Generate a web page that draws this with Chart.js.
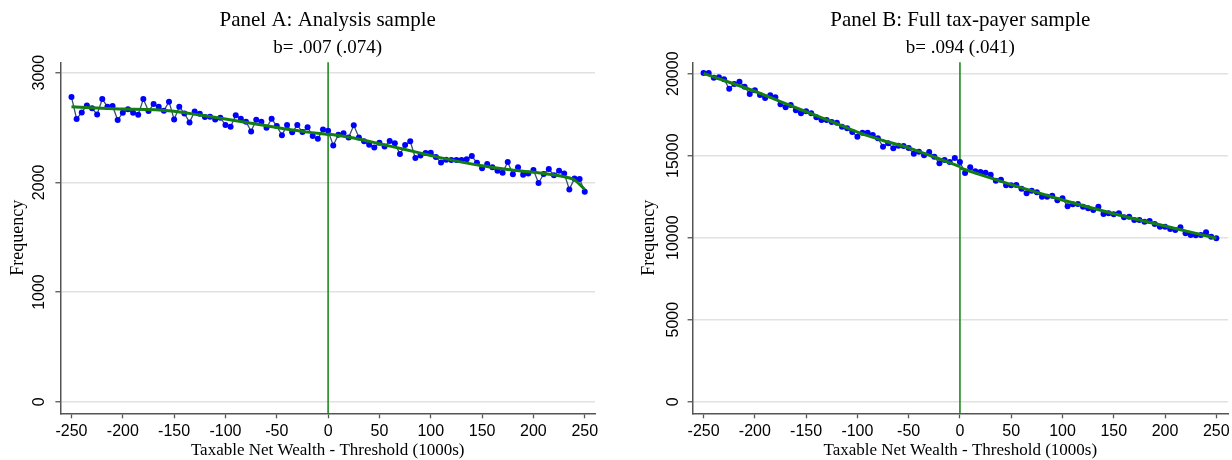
<!DOCTYPE html>
<html lang="en">
<head>
    <meta charset="UTF-8">
    <title>Frequency around the wealth tax threshold</title>
    <style>
        html, body { margin: 0; padding: 0; background: #fff; }
        .panels { position: relative; width: 1232px; height: 460px; }
        .panel { position: absolute; top: 0; width: 616px; height: 460px; }
        #panelA { left: 0; }
        #panelB { left: 616px; }
    </style>
</head>
<body>
    <div class="panels">
        <div class="panel" id="panelA"><canvas id="chartA" width="616" height="460"></canvas></div>
        <div class="panel" id="panelB"><canvas id="chartB" width="616" height="460"></canvas></div>
    </div>

    <script src="https://cdn.jsdelivr.net/npm/chart.js"></script>
    <script>
        // bins of taxable net wealth minus threshold (1000s)
        const bins = [
            -250, -245, -240, -235, -230, -225, -220, -215, -210, -205,
            -200, -195, -190, -185, -180, -175, -170, -165, -160, -155,
            -150, -145, -140, -135, -130, -125, -120, -115, -110, -105,
            -100, -95, -90, -85, -80, -75, -70, -65, -60, -55,
            -50, -45, -40, -35, -30, -25, -20, -15, -10, -5,
            0, 5, 10, 15, 20, 25, 30, 35, 40, 45,
            50, 55, 60, 65, 70, 75, 80, 85, 90, 95,
            100, 105, 110, 115, 120, 125, 130, 135, 140, 145,
            150, 155, 160, 165, 170, 175, 180, 185, 190, 195,
            200, 205, 210, 215, 220, 225, 230, 235, 240, 245,
            250
        ];

        // Panel A: analysis sample
        const freqA = [
            2778, 2578, 2638, 2702, 2675, 2620, 2760, 2690, 2696, 2568,
            2635, 2666, 2635, 2617, 2760, 2650, 2714, 2690, 2653, 2736,
            2574, 2690, 2629, 2547, 2647, 2626, 2596, 2599, 2574, 2590,
            2523, 2508, 2611, 2580, 2553, 2465, 2571, 2553, 2498, 2580,
            2514, 2429, 2523, 2456, 2523, 2459, 2502, 2422, 2398, 2483,
            2471, 2337, 2435, 2447, 2410, 2520, 2410, 2374, 2343, 2319,
            2362, 2328, 2377, 2356, 2258, 2340, 2374, 2222, 2246, 2267,
            2270, 2231, 2182, 2207, 2204, 2204, 2204, 2210, 2240, 2179,
            2128, 2167, 2137, 2106, 2088, 2185, 2073, 2137, 2070, 2082,
            2112, 1994, 2076, 2122, 2064, 2106, 2082, 1936, 2036, 2030,
            1915
        ];
        const fitLeftXA = [-250, -225, -200, -175, -150, -125, -100, -75, -50, -25, 0];
        const fitLeftA = [2690, 2678, 2668, 2664, 2648, 2614, 2578, 2540, 2500, 2465, 2437];
        const fitRightXA = [0, 25, 50, 75, 100, 125, 150, 175, 200, 225, 240, 250];
        const fitRightA = [2442, 2405, 2352, 2300, 2245, 2194, 2152, 2118, 2092, 2060, 2022, 1935];
        const yTicksA = [0, 1000, 2000, 3000];

        // Panel B: full tax-payer sample
        const freqB = [
            20040, 20040, 19756, 19776, 19654, 19085, 19370, 19512, 19207, 18760,
            18984, 18699, 18516, 18679, 18557, 18130, 17947, 18089, 17764, 17581,
            17703, 17581, 17337, 17175, 17175, 17053, 17012, 16768, 16667, 16443,
            16159, 16402, 16402, 16260, 16057, 15549, 15752, 15447, 15610, 15589,
            15467, 15122, 15244, 15020, 15224, 14939, 14533, 14736, 14614, 14858,
            14614, 13943, 14289, 14045, 14004, 13963, 13841, 13476, 13537, 13191,
            13191, 13211, 12988, 12703, 12866, 12764, 12500, 12500, 12561, 12276,
            12398, 11911, 12033, 12053, 11890, 11789, 11687, 11890, 11443, 11484,
            11423, 11484, 11240, 11280, 11077, 11077, 10976, 11016, 10833, 10671,
            10671, 10528, 10467, 10630, 10264, 10163, 10142, 10163, 10325, 10061,
            9959
        ];
        const fitLeftXB = [-250, -225, -200, -175, -150, -125, -100, -75, -50, -25, 0];
        const fitLeftB = [20020, 19480, 18930, 18300, 17680, 17080, 16440, 15930, 15480, 14920, 14330];
        const fitRightXB = [0, 25, 50, 75, 100, 125, 150, 175, 200, 225, 250];
        const fitRightB = [14250, 13740, 13240, 12760, 12300, 11870, 11460, 11080, 10710, 10340, 9970];
        const yTicksB = [0, 5000, 10000, 15000, 20000];

        const xTicks = [-250, -200, -150, -100, -50, 0, 50, 100, 150, 200, 250];
        const cutoff = 0;

        const serif = '"Liberation Serif", "Times New Roman", serif';
        const sans = '"Liberation Sans", Arial, sans-serif';
        const fitGreen = '#137f13';
        const axisGrey = '#555555';
        const gridGrey = '#e1e1e1';

        // green vertical line at the threshold
        const cutoffLine = {
            id: 'cutoffLine',
            beforeDatasetsDraw(chart) {
                const { ctx, chartArea, scales } = chart;
                const px = scales.x.getPixelForValue(cutoff);
                ctx.save();
                ctx.strokeStyle = '#1f8a1f';
                ctx.lineWidth = 1.6;
                ctx.beginPath();
                ctx.moveTo(px, chartArea.top);
                ctx.lineTo(px, chartArea.bottom);
                ctx.stroke();
                ctx.restore();
            }
        };

        function toPoints(xs, ys) {
            return xs.map((x, i) => ({ x: x, y: ys[i] }));
        }

        function panelChart(id, p) {
            return new Chart(document.getElementById(id), {
                type: 'line',
                data: {
                    datasets: [
                        {
                            label: 'Fit below',
                            data: toPoints(p.fitLeftX, p.fitLeft),
                            borderColor: fitGreen,
                            borderWidth: 3,
                            pointRadius: 0,
                            cubicInterpolationMode: 'monotone',
                            order: 0
                        },
                        {
                            label: 'Fit above',
                            data: toPoints(p.fitRightX, p.fitRight),
                            borderColor: fitGreen,
                            borderWidth: 3,
                            pointRadius: 0,
                            cubicInterpolationMode: 'monotone',
                            order: 0
                        },
                        {
                            label: 'Frequency',
                            data: toPoints(bins, p.freq),
                            borderColor: '#34506d',
                            borderWidth: 1.3,
                            pointRadius: 3,
                            pointBackgroundColor: '#0000ff',
                            pointBorderWidth: 0,
                            tension: 0,
                            order: 1
                        }
                    ]
                },
                options: {
                    responsive: false,
                    animation: false,
                    layout: { padding: { left: 0, right: p.padRight, top: 0, bottom: 0 } },
                    plugins: {
                        legend: { display: false },
                        tooltip: { enabled: false },
                        title: {
                            display: true,
                            text: p.title,
                            fullSize: false,
                            color: '#000',
                            font: { family: serif, size: 21, weight: 'normal', lineHeight: 1.2 },
                            padding: { top: 8, bottom: 0 }
                        },
                        subtitle: {
                            display: true,
                            text: p.subtitle,
                            fullSize: false,
                            color: '#000',
                            font: { family: serif, size: 19, weight: 'normal', lineHeight: 1.2 },
                            padding: { top: 3.4, bottom: 2.9 }
                        }
                    },
                    scales: {
                        x: {
                            type: 'linear',
                            min: p.xMin,
                            max: p.xMax,
                            afterBuildTicks: s => { s.ticks = xTicks.map(v => ({ value: v })); },
                            afterFit: s => { s.height = 46.7; s.paddingLeft = 0; s.paddingRight = 0; },
                            grid: { drawOnChartArea: false, tickLength: 5, tickColor: axisGrey, tickWidth: 1.3 },
                            border: { color: axisGrey, width: 1.5 },
                            ticks: {
                                color: '#000',
                                font: { family: sans, size: 16 },
                                padding: 4,
                                maxRotation: 0,
                                autoSkip: false,
                                callback: v => String(v)
                            },
                            title: {
                                display: true,
                                text: 'Taxable Net Wealth - Threshold (1000s)',
                                color: '#000',
                                font: { family: serif, size: 17, lineHeight: 1.1 },
                                padding: { top: 0, bottom: 0 }
                            }
                        },
                        y: {
                            type: 'linear',
                            min: p.yMin,
                            max: p.yMax,
                            afterBuildTicks: s => { s.ticks = p.yTicks.map(v => ({ value: v })); },
                            afterFit: s => { s.width = p.yWidth; s.paddingTop = 0; s.paddingBottom = 0; },
                            grid: { color: gridGrey, lineWidth: 1.5, tickLength: 5, tickColor: axisGrey, tickWidth: 1.3 },
                            border: { color: axisGrey, width: 1.5 },
                            ticks: {
                                color: '#000',
                                font: { family: sans, size: 16 },
                                minRotation: 90,
                                maxRotation: 90,
                                crossAlign: 'center',
                                padding: p.yTickPad,
                                autoSkip: false,
                                callback: v => String(v)
                            },
                            title: {
                                display: true,
                                text: 'Frequency',
                                color: '#000',
                                font: { family: serif, size: 18, lineHeight: 1.1 },
                                padding: { top: p.yTitlePad, bottom: 0 }
                            }
                        }
                    }
                },
                plugins: [cutoffLine]
            });
        }

        panelChart('chartA', {
            title: 'Panel A: Analysis sample',
            subtitle: 'b= .007 (.074)',
            freq: freqA,
            fitLeftX: fitLeftXA, fitLeft: fitLeftA,
            fitRightX: fitRightXA, fitRight: fitRightA,
            yTicks: yTicksA,
            xMin: -260.8, xMax: 260,
            yMin: -106, yMax: 3095,
            yWidth: 60.4, padRight: 21,
            yTickPad: -2.4, yTitlePad: 8.5
        });

        panelChart('chartB', {
            title: 'Panel B: Full tax-payer sample',
            subtitle: 'b= .094 (.041)',
            freq: freqB,
            fitLeftX: fitLeftXB, fitLeft: fitLeftB,
            fitRightX: fitRightXB, fitRight: fitRightB,
            yTicks: yTicksB,
            xMin: -260.7, xMax: 261.4,
            yMin: -707, yMax: 20695,
            yWidth: 76.6, padRight: 3.3,
            yTickPad: -7.75, yTitlePad: 23.3
        });
    </script>
</body>
</html>
